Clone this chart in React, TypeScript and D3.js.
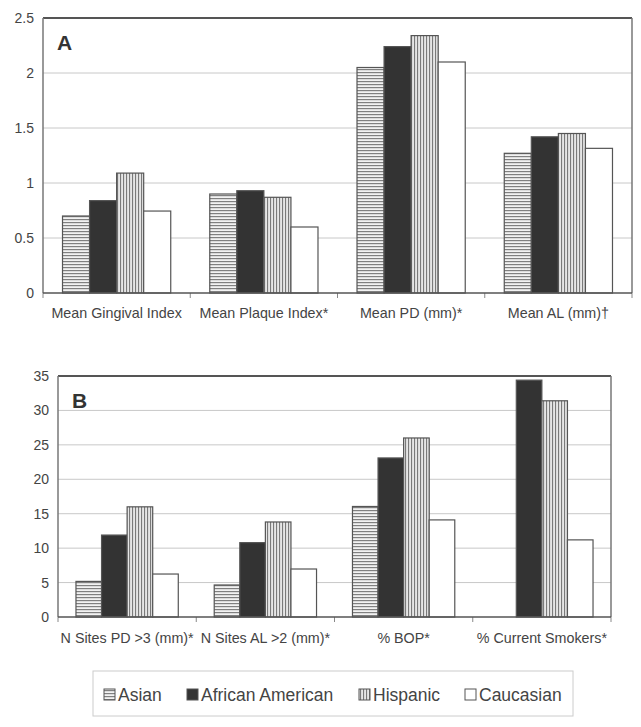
import React from "react";
import * as d3 from "d3";

const seriesNames = ["Asian", "African American", "Hispanic", "Caucasian"];

const categoriesA = ["Mean Gingival Index", "Mean Plaque Index*", "Mean PD (mm)*", "Mean AL (mm)\u2020"];
const asianA = [0.70, 0.90, 2.05, 1.27];
const africanA = [0.84, 0.93, 2.24, 1.42];
const hispanicA = [1.09, 0.87, 2.34, 1.45];
const caucasianA = [0.745, 0.60, 2.10, 1.315];
const ticksA = [0, 0.5, 1, 1.5, 2, 2.5];

const categoriesB = ["N Sites PD >3 (mm)*", "N Sites AL >2 (mm)*", "% BOP*", "% Current Smokers*"];
const asianB = [5.17, 4.65, 16.05, 0];
const africanB = [11.9, 10.8, 23.1, 34.4];
const hispanicB = [16.0, 13.8, 26.0, 31.4];
const caucasianB = [6.24, 6.97, 14.1, 11.2];
const ticksB = [0, 5, 10, 15, 20, 25, 30, 35];

const fills = ["url(#pHoriz)", "#333", "url(#pVert)", "#fff"];
const FONT = "Liberation Sans, Arial, sans-serif";

type PanelProps = {
  label: string;
  cats: string[];
  values: number[][];
  ticks: number[];
  max: number;
  left: number;
  right: number;
  top: number;
  bottom: number;
  padInner: number;
  labelDy: number;
};

function Panel({ label, cats, values, ticks, max, left, right, top, bottom, padInner, labelDy }: PanelProps) {
  const y = d3.scaleLinear().domain([0, max]).range([bottom, top]);
  const x0 = d3.scaleBand<string>().domain(cats).range([left, right]).paddingInner(0).paddingOuter(0);
  const bw = x0.bandwidth();
  const groupW = bw * padInner;
  const x1 = d3.scaleBand<string>().domain(seriesNames).range([0, groupW]).padding(0);
  return (
    <g>
      {ticks.map((t) => (
        <g key={t}>
          {t > 0 && t < max && (
            <line x1={left} x2={right} y1={y(t)} y2={y(t)} stroke="#c8c8c8" strokeWidth={1} />
          )}
          <text x={left - 9} y={y(t) + 5} textAnchor="end" fontSize={14} fill="#444" fontFamily={FONT}>
            {t}
          </text>
        </g>
      ))}
      <line x1={left} x2={right} y1={top} y2={top} stroke="#555" strokeWidth={2} />
      <line x1={right} x2={right} y1={top} y2={bottom} stroke="#777" strokeWidth={1.5} />
      <line x1={left} x2={left} y1={top} y2={bottom} stroke="#777" strokeWidth={1.5} />
      {cats.map((c, i) => (
        <line key={"tk" + i} x1={x0(c)!} x2={x0(c)!} y1={bottom} y2={bottom + 5} stroke="#888" strokeWidth={1} />
      ))}
      <line x1={right} x2={right} y1={bottom} y2={bottom + 5} stroke="#888" strokeWidth={1} />
      {cats.map((c, ci) => {
        const gx = x0(c)! + (bw - groupW) / 2;
        return (
          <g key={c}>
            {seriesNames.map((s, si) => {
              const v = values[si][ci];
              if (!v) return null;
              return (
                <rect
                  key={s}
                  x={gx + x1(s)!}
                  y={y(v)}
                  width={x1.bandwidth()}
                  height={bottom - y(v)}
                  fill={fills[si]}
                  stroke="#555"
                  strokeWidth={1.2}
                />
              );
            })}
            <text
              x={x0(c)! + bw / 2}
              y={bottom + labelDy}
              textAnchor="middle"
              fontSize={14.3}
              fill="#444"
              fontFamily={FONT}
            >
              {c}
            </text>
          </g>
        );
      })}
      <line x1={left} x2={right} y1={bottom} y2={bottom} stroke="#555" strokeWidth={1.5} />
      <text x={left + 14} y={top + 32} fontSize={21} fontWeight="bold" fill="#333" fontFamily={FONT}>
        {label}
      </text>
    </g>
  );
}

export default function App() {
  const valuesA = [asianA, africanA, hispanicA, caucasianA];
  const valuesB = [asianB, africanB, hispanicB, caucasianB];
  const legendX = [104, 187, 359, 465];
  return (
    <svg
      width={641}
      height={727}
      style={{ position: "absolute", left: 0, top: 0, background: "#fff" }}
    >
      <defs>
        <pattern id="pHoriz" width={4} height={3} patternUnits="userSpaceOnUse">
          <rect width={4} height={3} fill="#f2f2f2" />
          <rect y={0} width={4} height={1.2} fill="#808080" />
        </pattern>
        <pattern id="pVert" width={3} height={4} patternUnits="userSpaceOnUse">
          <rect width={3} height={4} fill="#e6e6e6" />
          <rect x={0} width={1.1} height={4} fill="#7a7a7a" />
        </pattern>
      </defs>
      <Panel
        label="A"
        cats={categoriesA}
        values={valuesA}
        ticks={ticksA}
        max={2.5}
        left={43}
        right={632}
        top={18}
        bottom={293}
        padInner={0.735}
        labelDy={25}
      />
      <Panel
        label="B"
        cats={categoriesB}
        values={valuesB}
        ticks={ticksB}
        max={35}
        left={58}
        right={611}
        top={376}
        bottom={617}
        padInner={0.74}
        labelDy={26}
      />
      <rect x={93} y={671} width={480} height={45} fill="#fff" stroke="#ccc" strokeWidth={1} />
      {seriesNames.map((s, i) => (
        <g key={s}>
          <rect
            x={legendX[i]}
            y={689}
            width={11}
            height={11}
            fill={fills[i]}
            stroke="#555"
            strokeWidth={1}
          />
          <text x={legendX[i] + 14} y={700.5} fontSize={17.5} fill="#444" fontFamily={FONT}>
            {s}
          </text>
        </g>
      ))}
    </svg>
  );
}
